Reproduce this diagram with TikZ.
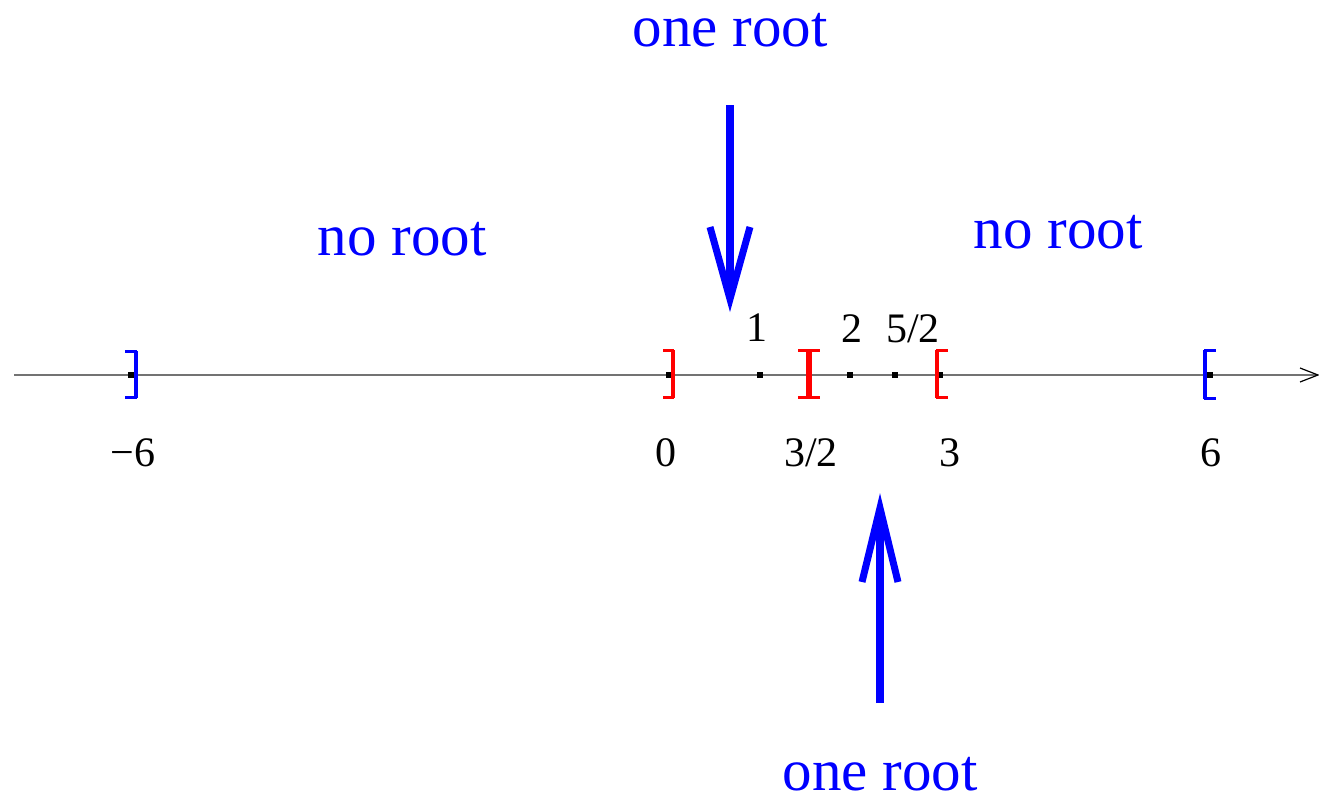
\documentclass[tikz,border=0pt]{standalone}
\usepackage{fontspec}
\setmainfont{Liberation Serif}
\definecolor{pblue}{RGB}{0,0,255}
\definecolor{pred}{RGB}{255,0,0}
\begin{document}
\begin{tikzpicture}[x=0.5pt,y=-0.5pt,
  axisline/.style={draw=black!55,line width=0.75pt},
  tickdot/.style={fill=black,minimum size=3.4pt,inner sep=0pt,draw=none},
  bvert/.style={line width=2pt},
  bserif/.style={line width=1.2pt},
  numlab/.style={inner sep=0pt,font=\fontsize{21}{25}\selectfont},
  bluelab/.style={inner sep=0pt,text=pblue,font=\fontsize{29.5}{34}\selectfont},
  bigarrow/.style={draw=pblue,line width=4pt},
  arrowhd/.style={draw=pblue,line width=3.5pt,line join=miter,miter limit=10}]
\useasboundingbox (0,0) rectangle (1319,798);
% axis
\coordinate (ax0) at (14,375);
\coordinate (ax1) at (1318,375);
\draw[axisline] (ax0) -- (ax1);
\draw[black,line width=0.6pt] (1300,368) -- (ax1) -- (1300,382);
% tick dots
\node[tickdot] (dm6) at (131,375) {};
\node[tickdot] (d0) at (669,375) {};
\node[tickdot] (d1) at (760,375) {};
\node[tickdot] (d2) at (850,375) {};
\node[tickdot] (d52) at (895,375) {};
\node[tickdot] (d3) at (940,375) {};
\node[tickdot] (d6) at (1210,375) {};
% brackets
\begin{scope}[pblue]
  \draw[bvert] (135.5,351) -- (135.5,398);
  \draw[bserif] (125,351.5) -- (136.5,351.5) (125,397.5) -- (136.5,397.5);
  \draw[bvert] (1205,350) -- (1205,399);
  \draw[bserif] (1204,350.5) -- (1216,350.5) (1204,398.5) -- (1216,398.5);
\end{scope}
\begin{scope}[pred]
  \draw[bvert] (673,350) -- (673,398);
  \draw[bserif] (663,350.5) -- (674,350.5) (663,397.5) -- (674,397.5);
  \draw[line width=3pt] (809,350) -- (809,398);
  \draw[bserif] (798,350.5) -- (820,350.5) (798,397.5) -- (820,397.5);
  \draw[bvert] (937,350) -- (937,398);
  \draw[bserif] (936,350.5) -- (948,350.5) (936,397.5) -- (948,397.5);
\end{scope}
% number labels
\node[numlab] (l1) at (757,328) {1};
\node[numlab] (l2) at (852,329) {2};
\node[numlab] (l52) at (913,329) {5/2};
\node[numlab] (lm6) at (133,453) {−6};
\node[numlab] (l0) at (666,453) {0};
\node[numlab] (l32) at (811,453) {3/2};
\node[numlab] (l3) at (950,453) {3};
\node[numlab] (l6) at (1211,453) {6};
% blue labels
\node[bluelab] (t1) at (730,30) {one root};
\node[bluelab] (t2) at (402,239) {no root};
\node[bluelab] (t3) at (1058,232) {no root};
\node[bluelab] (t4) at (880,774) {one root};
% arrows
\coordinate (a1s) at (730,105);
\coordinate (a1v) at (730,299);
\coordinate (a1l) at (710,227);
\coordinate (a1r) at (750,227);
\draw[bigarrow] (a1s) -- (730,290);
\draw[arrowhd] (a1l) -- (a1v) -- (a1r);
\coordinate (a2s) at (880,703);
\coordinate (a2v) at (880,508);
\coordinate (a2l) at (862,582);
\coordinate (a2r) at (898,582);
\draw[bigarrow] (a2s) -- (880,516);
\draw[arrowhd] (a2l) -- (a2v) -- (a2r);
\end{tikzpicture}
\end{document}
